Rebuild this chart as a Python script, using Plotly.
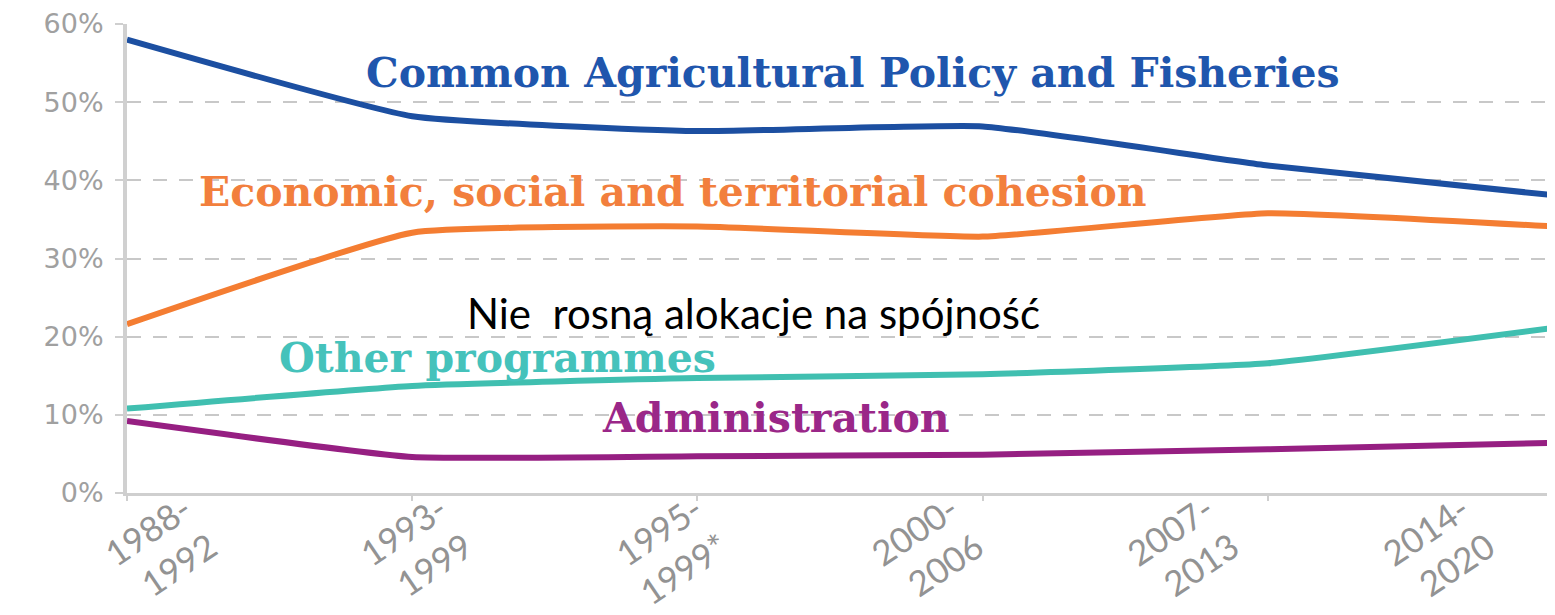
import plotly.graph_objects as go

periods = ["1988-<br>1992", "1993-<br>1999", "1995-<br>1999*", "2000-<br>2006", "2007-<br>2013", "2014-<br>2020"]
cap = [58.0, 48.2, 46.3, 46.9, 41.9, 38.1]
cohesion = [21.6, 33.3, 34.1, 32.8, 35.8, 34.1]
other = [10.8, 13.7, 14.7, 15.2, 16.6, 21.1]
admin = [9.2, 4.6, 4.7, 4.9, 5.6, 6.4]

series = [
    ("Common Agricultural Policy and Fisheries", cap, "#1c4fa1"),
    ("Economic, social and territorial cohesion", cohesion, "#f47d32"),
    ("Other programmes", other, "#40bfb0"),
    ("Administration", admin, "#961f82"),
]

idx = list(range(len(periods)))

fig = go.Figure()
for name, vals, col in series:
    fig.add_trace(go.Scatter(
        x=idx, y=vals, mode="lines", name=name,
        line=dict(color=col, width=6, shape="spline", smoothing=0.4),
        showlegend=False, hoverinfo="skip",
    ))
# carrier trace for the label axis (no visible marks)
fig.add_trace(go.Scatter(x=idx, y=[None] * len(idx), xaxis="x2", mode="lines",
                         showlegend=False, hoverinfo="skip"))

serif = "DejaVu Serif"
labels = [
    ("Common Agricultural Policy and Fisheries", 2.547, 53.7, "#1f56ad"),
    ("Economic, social and territorial cohesion", 1.913, 38.5, "#f27f3d"),
    ("Other programmes", 1.30, 17.3, "#45c2bb"),
    ("Administration", 2.274, 9.6, "#9a2788"),
]
for txt, x, y, col in labels:
    fig.add_annotation(x=x, y=y, xref="x", yref="y", text="<b>" + txt + "</b>", showarrow=False,
                       font=dict(family=serif, size=41, color=col),
                       xanchor="center", yanchor="middle")

fig.add_annotation(x=2.197, y=23.0, xref="x", yref="y", text="Nie  rosną alokacje na spójność",
                   showarrow=False, font=dict(family="Lato", size=42, color="#000000"),
                   xanchor="center", yanchor="middle")

fig.update_layout(
    width=1547, height=607,
    margin=dict(l=119, r=2, t=16, b=122),
    paper_bgcolor="white", plot_bgcolor="white",
    xaxis=dict(
        range=[0, 5], showgrid=False, zeroline=False, automargin=False,
        showline=True, linecolor="#cfcfcf", linewidth=3,
        tickmode="array", tickvals=idx, showticklabels=False,
        ticks="outside", ticklen=5, tickcolor="#cfcfcf", tickwidth=2,
    ),
    xaxis2=dict(
        overlaying="x", anchor="y", side="bottom", range=[-0.225, 5.355],
        showgrid=False, zeroline=False, showline=False, automargin=False,
        tickmode="array", tickvals=idx, ticktext=periods, ticks="",
        tickangle=-34, tickfont=dict(family="Lato", size=35, color="#939393"),
        ticklabelstandoff=-11,
    ),
    yaxis=dict(
        range=[0, 60], dtick=10, ticksuffix="%", zeroline=False, automargin=False,
        showgrid=True, gridcolor="#c8c8c8", gridwidth=2, griddash="14px,12px",
        showline=True, linecolor="#d0d0d0", linewidth=4,
        ticks="outside", ticklen=8, tickcolor="#cfcfcf", tickwidth=2,
        tickfont=dict(family="DejaVu Sans", size=27, color="#a0a0a0"),
        ticklabelstandoff=6,
    ),
)

fig.write_html("out.html")
